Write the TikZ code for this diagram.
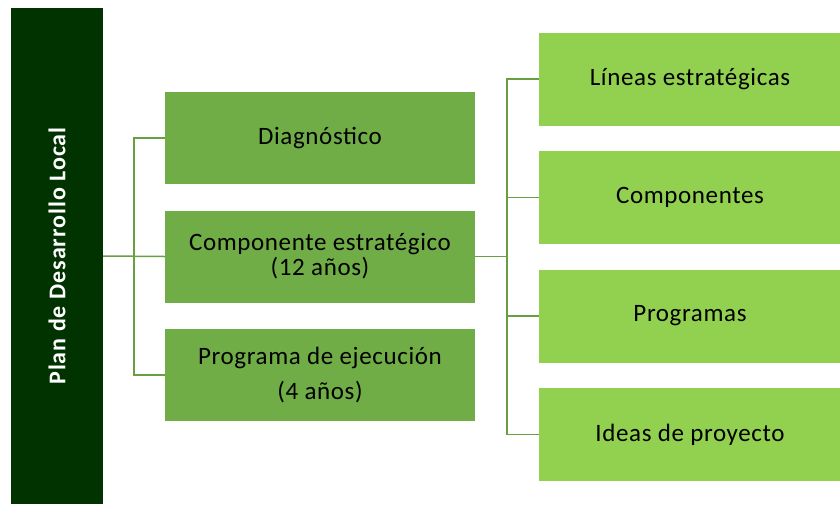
\documentclass[tikz,border=0pt]{standalone}
\usepackage{fontspec}
\setmainfont{Carlito}
\newfontfamily\boxfont[LetterSpace=2.5]{Carlito}
\newfontfamily\planfont[LetterSpace=4]{Carlito}
\usepackage{tikz}
\usetikzlibrary{positioning,calc}
\definecolor{plangreen}{HTML}{003300}
\definecolor{midgreen}{HTML}{70AD47}
\definecolor{lightgreen}{HTML}{92D050}
\tikzstyle{planblock} = [rectangle, minimum width=92pt, minimum height=496pt, inner sep=0pt, fill=plangreen]
\tikzstyle{plantext} = [rotate=90, text=white, font=\planfont\fontsize{24}{26}\selectfont\bfseries]
\tikzstyle{midblock} = [rectangle, minimum width=310pt, minimum height=92pt, inner sep=0pt, align=center, fill=midgreen, font=\boxfont\fontsize{25}{25}\selectfont]
\tikzstyle{subblock} = [rectangle, minimum width=302pt, minimum height=93pt, inner sep=0pt, align=center, fill=lightgreen, font=\boxfont\fontsize{25}{25}\selectfont]
\tikzstyle{conn} = [line width=1.5pt, draw=midgreen!92!black]

\begin{document}
\begin{tikzpicture}[x=1pt, y=-1pt, node distance=118.5pt]
	\useasboundingbox (0,0) rectangle (840,504);

	\node (plan)[planblock] at (57,256) {};
	\node (planlabel)[plantext] at (plan.center) {Plan de Desarrollo Local};

	\node (diag)[midblock] at (320,138) {Diagnóstico};
	\node (comp)[midblock, below of=diag] {Componente estratégico\\(12 años)};
	\node (prog)[midblock, below of=comp] {Programa de ejecución\\[10pt](4 años)};

	\node (lineas)[subblock] at (690,79) {Líneas estratégicas};
	\node (comps)[subblock, below of=lineas] {Componentes};
	\node (progs)[subblock, below of=comps] {Programas};
	\node (ideas)[subblock, below of=progs] {Ideas de proyecto};

	\coordinate (lsplit) at ($(plan.east)!0.5!(comp.west)$);
	\coordinate (rsplit) at ($(comp.east)!0.5!(comp.east -| lineas.west)$);

	\draw [conn] (plan.east) -- (comp.west);
	\draw [conn] (diag.west) -| (lsplit) |- (prog.west);

	\draw [conn] (comp.east) -- (rsplit);
	\draw [conn] (lineas.west) -| (rsplit) |- (ideas.west);
	\draw [conn] (comps.west) -- (comps.west -| rsplit);
	\draw [conn] (progs.west) -- (progs.west -| rsplit);

\end{tikzpicture}
\end{document}
